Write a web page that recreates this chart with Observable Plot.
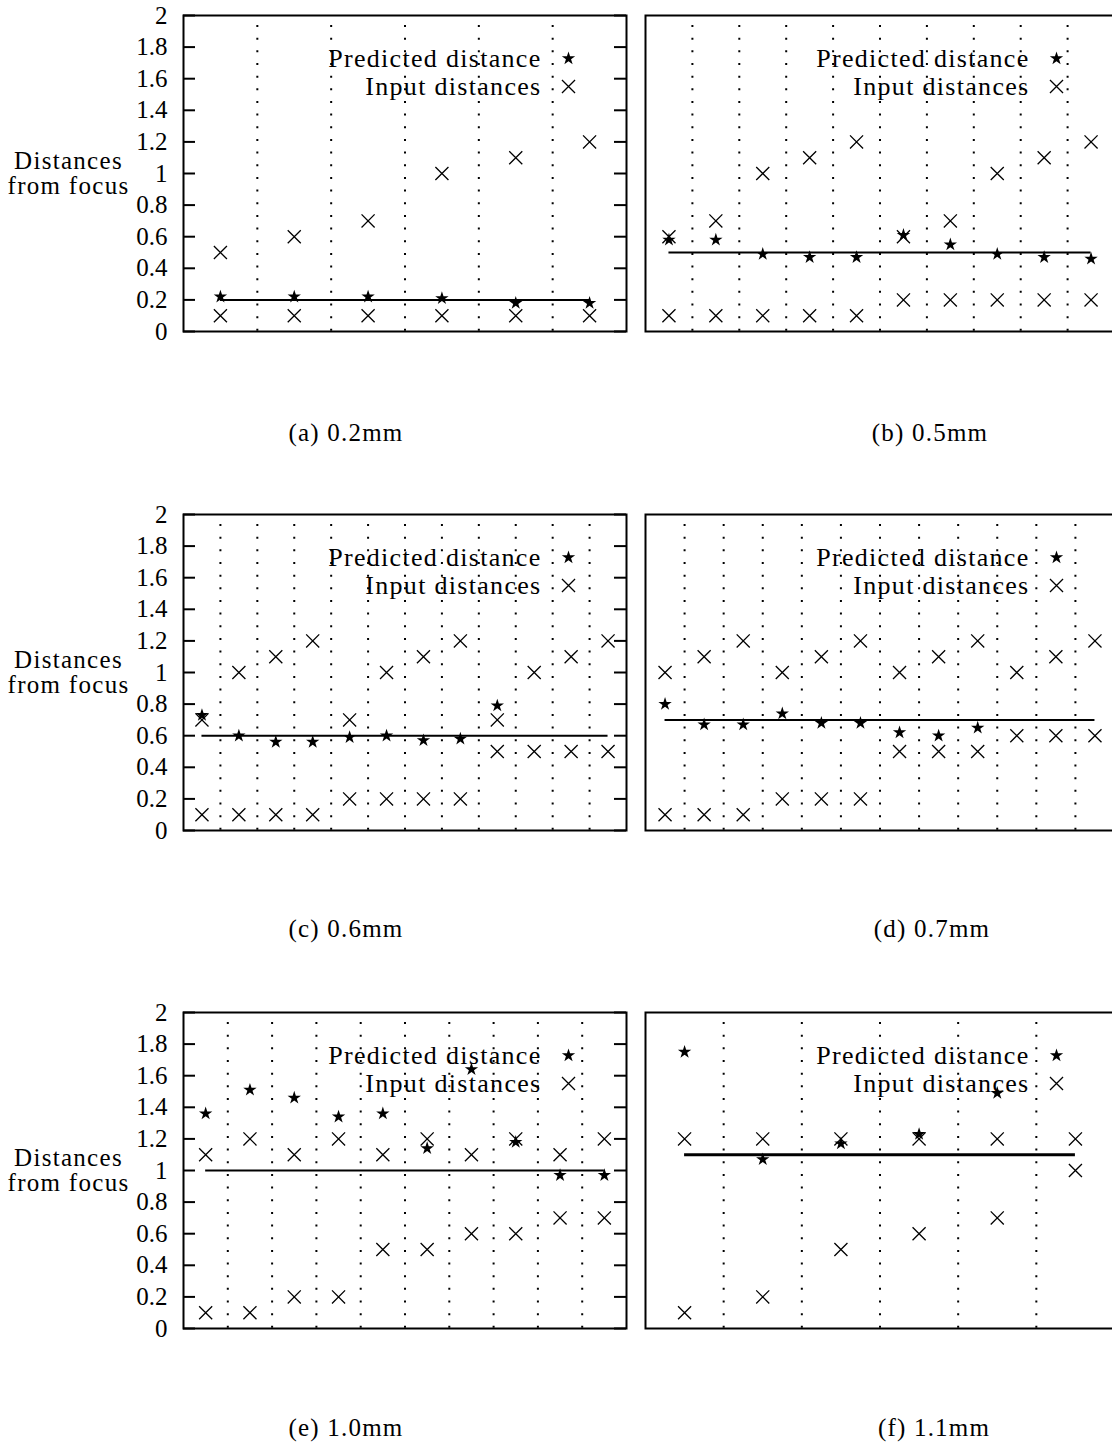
<!DOCTYPE html>
<html>
<head>
<meta charset="utf-8">
<script src="https://cdn.jsdelivr.net/npm/d3@7"></script>
<script src="https://cdn.jsdelivr.net/npm/@observablehq/plot@0.6"></script>
<style>
  html, body { margin: 0; padding: 0; background: #fff; overflow: hidden; }
  #wrap { position: relative; width: 1112px; height: 1442px; overflow: hidden; background: #fff; }
  .panel { position: absolute; }
  .panel svg { overflow: visible; max-width: none !important; display: block; }
  .cap { position: absolute; width: 300px; margin-left: -150px; text-align: center;
         font-family: "Liberation Serif", serif; font-size: 25px; letter-spacing: 1.2px; line-height: 25px; margin-top: -12px; color: #000; }
  g[aria-label="text"] text { letter-spacing: 1.3px; }
</style>
</head>
<body>
<div id="wrap"></div>
<script>
// ---- data ----
const captions = ["(a) 0.2mm", "(b) 0.5mm", "(c) 0.6mm", "(d) 0.7mm", "(e) 1.0mm", "(f) 1.1mm"];
const trueDist = [0.2, 0.5, 0.6, 0.7, 1.0, 1.1];
const yTicks = [0, 0.2, 0.4, 0.6, 0.8, 1, 1.2, 1.4, 1.6, 1.8, 2];
const legendLabels = ["Predicted distance", "Input distances"];
const yTitle = "Distances\nfrom focus";

// (a) 0.2mm
const predA = [0.22, 0.22, 0.22, 0.21, 0.18, 0.18];
const lowA  = [0.1, 0.1, 0.1, 0.1, 0.1, 0.1];
const highA = [0.5, 0.6, 0.7, 1.0, 1.1, 1.2];
// (b) 0.5mm
const predB = [0.58, 0.58, 0.49, 0.47, 0.47, 0.61, 0.55, 0.49, 0.47, 0.46];
const lowB  = [0.1, 0.1, 0.1, 0.1, 0.1, 0.2, 0.2, 0.2, 0.2, 0.2];
const highB = [0.6, 0.7, 1.0, 1.1, 1.2, 0.6, 0.7, 1.0, 1.1, 1.2];
// (c) 0.6mm
const predC = [0.73, 0.6, 0.56, 0.56, 0.59, 0.6, 0.57, 0.58, 0.79, null, null, null];
const lowC  = [0.1, 0.1, 0.1, 0.1, 0.2, 0.2, 0.2, 0.2, 0.5, 0.5, 0.5, 0.5];
const highC = [0.7, 1.0, 1.1, 1.2, 0.7, 1.0, 1.1, 1.2, 0.7, 1.0, 1.1, 1.2];
// (d) 0.7mm
const predD = [0.8, 0.67, 0.67, 0.74, 0.68, 0.68, 0.62, 0.6, 0.65, null, null, null];
const lowD  = [0.1, 0.1, 0.1, 0.2, 0.2, 0.2, 0.5, 0.5, 0.5, 0.6, 0.6, 0.6];
const highD = [1.0, 1.1, 1.2, 1.0, 1.1, 1.2, 1.0, 1.1, 1.2, 1.0, 1.1, 1.2];
// (e) 1.0mm
const predE = [1.36, 1.51, 1.46, 1.34, 1.36, 1.14, 1.64, 1.18, 0.97, 0.97];
const lowE  = [0.1, 0.1, 0.2, 0.2, 0.5, 0.5, 0.6, 0.6, 0.7, 0.7];
const highE = [1.1, 1.2, 1.1, 1.2, 1.1, 1.2, 1.1, 1.2, 1.1, 1.2];
// (f) 1.1mm
const predF = [1.75, 1.07, 1.17, 1.23, 1.49, null];
const lowF  = [0.1, 0.2, 0.5, 0.6, 0.7, 1.0];
const highF = [1.2, 1.2, 1.2, 1.2, 1.2, 1.2];

const panels = [
  {pred: predA, low: lowA, high: highA, left: true,  top: 15},
  {pred: predB, low: lowB, high: highB, left: false, top: 15},
  {pred: predC, low: lowC, high: highC, left: true,  top: 514},
  {pred: predD, low: lowD, high: highD, left: false, top: 514},
  {pred: predE, low: lowE, high: highE, left: true,  top: 1012},
  {pred: predF, low: lowF, high: highF, left: false, top: 1012, thick: true}
];
const capPos = [[346, 432], [930, 432], [346, 928], [932, 928], [346, 1427], [934, 1427]];

const wrap = document.getElementById("wrap");
const FONT = "Liberation Serif";
const STAR_R = 4.2, CROSS_R = 6;

panels.forEach((p, k) => {
  const n = p.low.length;
  const W = p.left ? 443 : 469;
  const mL = p.left ? 183 : 2, mR = p.left ? 4 : 2, mT = 15, mB = 12;
  const H = 316;
  const inputs = [];
  p.low.forEach((v, i) => inputs.push({i, v}));
  p.high.forEach((v, i) => inputs.push({i, v}));
  const preds = p.pred.map((v, i) => ({i, v})).filter(d => d.v != null);
  const seps = d3.range(n - 1).map(i => i + 0.5);

  const marks = [
    Plot.ruleX(seps, {x: d => d, stroke: "#000", strokeWidth: 2, strokeDasharray: "2,10.66", strokeDashoffset: 2.66}),
    Plot.ruleY([trueDist[k]], {y: d => d, x1: () => 0, x2: () => n - 1, stroke: "#000", strokeWidth: p.thick ? 3 : 2}),
    Plot.dot(inputs, {x: "i", y: "v", symbol: "times", r: CROSS_R, stroke: "#000", strokeWidth: 1.3}),
    Plot.dot(preds, {x: "i", y: "v", symbol: "star", r: STAR_R, fill: "#000", stroke: "none"}),
    Plot.frame({stroke: "#000", strokeWidth: 2}),
    Plot.text([legendLabels[0]], {frameAnchor: "top-right", dx: -85, dy: 43, textAnchor: "end", lineAnchor: "middle", fontSize: 26, fill: "#000"}),
    Plot.text([legendLabels[1]], {frameAnchor: "top-right", dx: -85, dy: 71, textAnchor: "end", lineAnchor: "middle", fontSize: 26, fill: "#000"}),
    Plot.dot([legendLabels[0]], {frameAnchor: "top-right", dx: -58, dy: 43, symbol: "star", r: STAR_R, fill: "#000", stroke: "none"}),
    Plot.dot([legendLabels[1]], {frameAnchor: "top-right", dx: -58, dy: 71, symbol: "times", r: CROSS_R, stroke: "#000", strokeWidth: 1.3})
  ];
  if (p.left) {
    marks.push(
      Plot.tickY(yTicks, {y: d => d, stroke: "#000", strokeWidth: 2, insetRight: W - 12}),
      Plot.tickY(yTicks, {y: d => d, stroke: "#000", strokeWidth: 2, insetLeft: W - 12}),
      Plot.axisY(yTicks, {tickSize: 0, tickPadding: 16, fontSize: 25, label: null, tickFormat: d => String(d), fill: "#000"}),
      Plot.text([yTitle], {x: () => -0.5, y: () => 1, dx: -115, textAnchor: "middle", lineAnchor: "middle", lineHeight: 1, fontSize: 25, fill: "#000"})
    );
  }

  const totalW = mL + W + mR;
  const chart = Plot.plot({
    width: totalW,
    height: mT + H + mB,
    marginLeft: mL, marginRight: mR, marginTop: mT, marginBottom: mB,
    x: {domain: [-0.5, n - 0.5], axis: null},
    y: {domain: [0, 2], axis: null},
    style: {fontFamily: FONT, background: "transparent", color: "#000", overflow: "visible", maxWidth: "none"},
    marks
  });
  const div = document.createElement("div");
  div.className = "panel";
  div.style.left = (p.left ? 0 : 643) + "px";
  div.style.top = (p.top - mT) + "px";
  div.style.width = totalW + "px";
  div.appendChild(chart);
  wrap.appendChild(div);

  const cap = document.createElement("div");
  cap.className = "cap";
  cap.style.left = capPos[k][0] + "px";
  cap.style.top = capPos[k][1] + "px";
  cap.textContent = captions[k];
  wrap.appendChild(cap);
});
</script>
</body>
</html>
